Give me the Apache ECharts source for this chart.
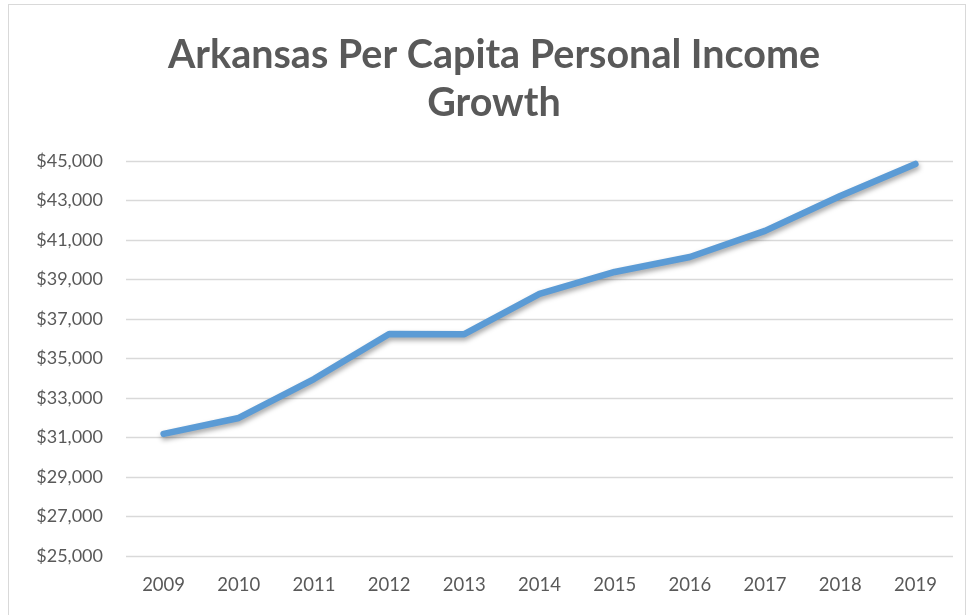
<!DOCTYPE html>
<html>
<head>
<meta charset="utf-8">
<script src="https://cdn.jsdelivr.net/npm/echarts@6/dist/echarts.min.js"></script>
<style>
html,body{margin:0;padding:0;background:#fff;}
#frame{position:absolute;left:8px;top:4px;width:958px;height:620px;border:1px solid #d9d9d9;box-sizing:border-box;}
#chart{position:absolute;left:0;top:0;width:969px;height:615px;}
</style>
</head>
<body>
<div id="frame"></div>
<div id="chart"></div>
<script>
const titleText = 'Arkansas Per Capita Personal Income\nGrowth';
const years = ['2009','2010','2011','2012','2013','2014','2015','2016','2017','2018','2019'];
const income = [31180, 31990, 33960, 36240, 36230, 38270, 39380, 40140, 41460, 43230, 44850];
const yMin = 25000, yMax = 45000, yStep = 2000;

const chart = echarts.init(document.getElementById('chart'), null, {renderer:'canvas'});
chart.setOption({
  backgroundColor: 'transparent',
  animation: false,
  graphic: [{
    type: 'text',
    x: 494,
    y: 31,
    style: {
      text: titleText,
      align: 'center',
      verticalAlign: 'top',
      fontFamily: 'Lato',
      fontWeight: 'bold',
      fontSize: 39.5,
      lineHeight: 48,
      fill: '#595959'
    }
  }],
  grid: {left: 126, right: 16, top: 161, bottom: 59, containLabel: false},
  xAxis: {
    type: 'category',
    data: years,
    boundaryGap: true,
    axisLine: {show: false},
    axisTick: {show: false},
    axisLabel: {color: '#595959', fontFamily: 'Lato', fontSize: 18.5, margin: 20}
  },
  yAxis: {
    type: 'value',
    min: yMin, max: yMax, interval: yStep,
    axisLine: {show: false},
    axisTick: {show: false},
    splitLine: {lineStyle: {color: '#d9d9d9', width: 1.3}},
    axisLabel: {
      color: '#595959', fontFamily: 'Lato', fontSize: 18, margin: 23,
      formatter: v => '$' + v.toLocaleString('en-US')
    }
  },
  series: [{
    type: 'line',
    data: income,
    symbol: 'none',
    lineStyle: {
      color: '#5B9BD5', width: 6.5, cap: 'round', join: 'round',
      shadowColor: 'rgba(0,0,0,0.35)', shadowBlur: 5, shadowOffsetX: 1, shadowOffsetY: 3
    }
  }]
});
</script>
</body>
</html>
